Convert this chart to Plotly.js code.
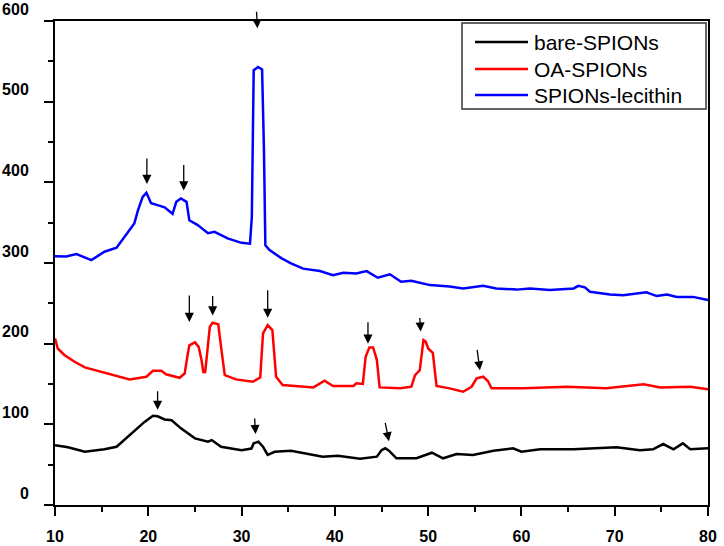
<!DOCTYPE html>
<html>
<head>
<meta charset="utf-8">
<script src="https://cdn.plot.ly/plotly-3.0.1.min.js"></script>
<style>
  html, body { margin: 0; padding: 0; background: #fff; }
  #chart { width: 724px; height: 546px; }
</style>
</head>
<body>
<div id="chart"></div>
<script>
// XRD patterns, 2-theta (deg) vs intensity
const bareX = [10, 11.4, 13.2, 15.3, 16.6, 18.2, 19.6, 20.5, 21.0, 21.75, 22.5, 23.5, 25.0, 26.4, 26.8, 27.8, 30.0, 31.05, 31.3, 31.8, 32.3, 32.8, 33.55, 35.3, 37.1, 38.7, 40.3, 42.7, 44.5, 45.0, 45.4, 45.8, 46.6, 48.75, 50.4, 51.6, 53.05, 54.8, 57.0, 59.1, 60.0, 62.0, 65.6, 70.2, 72.7, 74.1, 75.2, 76.3, 77.3, 78.1, 80];
const bareY = [74, 71.5, 66, 69, 72.2, 88.8, 103, 110.7, 110, 106, 105, 95, 82.6, 78.5, 80.5, 72.2, 68, 70, 76.4, 78.5, 72.2, 62, 66, 67.3, 63.2, 59.9, 61.1, 57.4, 59.9, 68, 70.3, 67.3, 57.9, 57.9, 64.8, 57.9, 63.2, 62, 67.3, 70.3, 66, 69, 69, 71.5, 68, 69, 75.6, 69, 76.4, 69, 70.3];

const oaX = [10, 10.3, 11.0, 12.1, 13.2, 14.05, 16.2, 18.0, 19.8, 20.5, 21.4, 21.9, 23.35, 23.9, 24.2, 24.4, 25.0, 25.4, 25.7, 25.9, 26.1, 26.4, 26.6, 26.9, 27.5, 27.8, 28.2, 29.4, 31.2, 32.0, 32.3, 32.8, 33.3, 33.7, 34.4, 37.7, 38.4, 38.9, 39.8, 42.0, 42.3, 43.0, 43.3, 43.7, 44.1, 44.5, 44.8, 47.0, 48.2, 48.6, 49.1, 49.5, 49.75, 50.0, 50.5, 50.9, 52.3, 53.75, 54.65, 55.2, 55.9, 56.4, 56.8, 60.2, 64.85, 69.1, 73.1, 74.0, 74.9, 78.1, 80];
const oaY = [206.5, 194, 186, 177.6, 170.6, 168, 161, 155.7, 159, 166.4, 166.4, 162, 157.7, 163, 185, 198, 201.6, 196, 180, 165, 165, 200, 221, 226, 224, 196, 161, 155.7, 152.8, 158, 212.8, 223, 216.8, 159, 148.7, 145.8, 150, 154, 147.5, 147.5, 150.8, 150, 183.8, 195.4, 195.4, 180, 145.8, 144.6, 146.6, 161, 167, 204.5, 202.4, 194, 188.7, 147.5, 144.6, 140.4, 146.6, 157, 159, 153.7, 144.6, 144.6, 146.6, 144.6, 149.6, 147.5, 145.8, 146.6, 143.4];

const lecX = [10, 11.2, 12.3, 13.9, 15.3, 16.6, 17.6, 18.5, 18.9, 19.4, 19.8, 20.3, 21.0, 21.75, 22.6, 23.0, 23.5, 24.1, 24.4, 25.3, 26.4, 27.1, 28.5, 30.0, 30.9, 31.1, 31.3, 31.76, 32.2, 32.4, 32.55, 33.0, 34.3, 35.3, 36.6, 38.4, 39.8, 40.9, 42.3, 43.4, 44.6, 45.9, 47.1, 48.2, 50.2, 52.3, 53.75, 55.9, 57.3, 59.5, 60.9, 63.05, 65.6, 66.1, 66.8, 67.35, 69.5, 70.9, 73.4, 74.5, 75.6, 76.65, 78.4, 80];
const lecY = [308.5, 308, 311, 303.6, 314, 319, 334.6, 349, 365.6, 382, 387, 374, 371.7, 369, 361, 375.8, 380, 375.8, 353, 347, 337, 338.7, 330.5, 325, 324, 357, 539, 543, 540, 440, 322, 316, 305.7, 299.5, 293, 290, 285, 288, 287, 290, 281.7, 286, 276.7, 278, 272.6, 271, 268.5, 271.7, 268.5, 267, 268.5, 266.4, 268.5, 271.7, 269.8, 264.3, 261, 260, 263.6, 259, 261, 258, 258, 254];

// peak markers: tip position in data units, tail offset in px
const arrowX = [21.0, 31.5, 45.8, 24.4, 26.9, 32.8, 43.55, 49.2, 55.55, 19.85, 23.8, 31.7];
const arrowY = [118, 88, 79, 227, 235, 232, 200, 215, 167, 398, 390, 591];
const arrowDx = [0, -1, -4, 0, 0, 0, 0, -1, -3, 0, 0, -1];
const arrowDy = [-20, -17, -20, -28, -21, -29, -23, -15, -22, -27, -27, -18];

const names = ['bare-SPIONs', 'OA-SPIONs', 'SPIONs-lecithin'];
const colors = ['#000000', '#ff0000', '#0000ff'];

const series = [[bareX, bareY], [oaX, oaY], [lecX, lecY]];
const traces = series.map(([x, y], i) => ({
  x, y,
  type: 'scatter',
  mode: 'lines',
  name: names[i],
  showlegend: false,
  line: { color: colors[i], width: 2.5 },
}));

const annotations = arrowX.map((x, i) => ({
  x, y: arrowY[i], xref: 'x', yref: 'y',
  text: '', showarrow: true,
  ax: arrowDx[i], ay: arrowDy[i],
  arrowhead: 2, arrowsize: 1.4, arrowwidth: 1.3,
  arrowcolor: '#000', standoff: 0,
}));

// legend box drawn by hand so the line samples are as long as in the figure
const legFont = { family: 'Liberation Sans, Arial, sans-serif', size: 21, color: '#000' };
const legRows = [0.9566, 0.9008, 0.8471];
const shapes = [{
  type: 'rect', xref: 'paper', yref: 'paper',
  x0: 0.6233, x1: 0.997, y0: 0.818, y1: 0.9959,
  line: { color: '#333', width: 1.5 }, fillcolor: '#fff', layer: 'above',
}];
names.forEach((name, i) => {
  shapes.push({
    type: 'line', xref: 'paper', yref: 'paper',
    x0: 0.6432, x1: 0.7243, y0: legRows[i], y1: legRows[i],
    line: { color: colors[i], width: 2.5 }, layer: 'above',
  });
  annotations.push({
    xref: 'paper', yref: 'paper', x: 0.731, y: legRows[i],
    xanchor: 'left', yanchor: 'middle', showarrow: false,
    text: name, font: legFont,
  });
});

const tickFont = { family: 'Liberation Sans, Arial, sans-serif', size: 16, color: '#000', weight: 'bold' };

const axisBase = {
  showgrid: false,
  zeroline: false,
  showline: true,
  linecolor: '#000',
  linewidth: 2,
  mirror: true,
  ticks: 'outside',
  ticklen: 9,
  tickwidth: 2,
  tickcolor: '#000',
  tickfont: tickFont,
};

const layout = {
  width: 724,
  height: 546,
  margin: { l: 55, r: 16, t: 21, b: 41 },
  paper_bgcolor: '#fff',
  plot_bgcolor: '#fff',
  showlegend: false,
  xaxis: Object.assign({}, axisBase, {
    range: [10, 80],
    tick0: 10,
    dtick: 10,
    ticklabelstandoff: 7,
    minor: { dtick: 5, ticks: 'outside', ticklen: 5, tickwidth: 2, tickcolor: '#000', showgrid: false },
  }),
  yaxis: Object.assign({}, axisBase, {
    range: [0, 600],
    tick0: 0,
    dtick: 100,
    ticklabelstandoff: 12,
    ticklabelshift: -12,
    minor: { dtick: 50, ticks: 'outside', ticklen: 5, tickwidth: 2, tickcolor: '#000', showgrid: false },
  }),
  shapes,
  annotations,
};

Plotly.newPlot('chart', traces, layout, { displayModeBar: false, staticPlot: true });
</script>
</body>
</html>
